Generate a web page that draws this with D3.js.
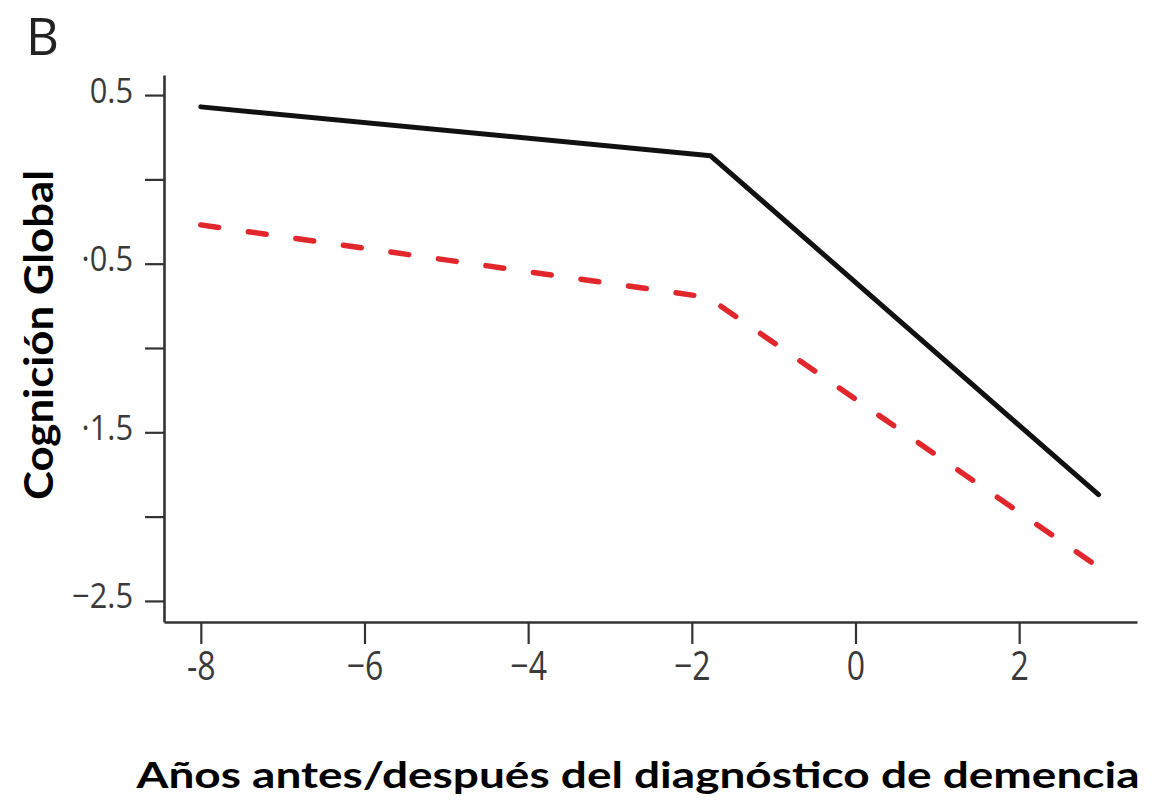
<!DOCTYPE html>
<html>
<head>
<meta charset="utf-8">
<script src="https://cdn.jsdelivr.net/npm/d3@7"></script>
<style>
  html, body { margin: 0; padding: 0; background: #fff; }
  svg { display: block; }
</style>
</head>
<body>
<svg id="chart" width="1152" height="803"></svg>
<script>
// Years relative to dementia diagnosis and global cognition z-scores
const yearsSolid = [-8, -1.77, 2.97];
const cognitionSolid = [0.43, 0.14, -1.87];
const yearsDashed = [-8, -1.8, 2.97];
const cognitionDashed = [-0.27, -0.70, -2.30];

const xTickValues = [-8, -6, -4, -2, 0, 2];
const xTickLabels = ["-8", "−6", "−4", "−2", "0", "2"];
const yTickValues = [0.5, 0, -0.5, -1, -1.5, -2, -2.5];
const yTickLabels = ["0.5", "", "·0.5", "", "·1.5", "", "−2.5"];

const panelLetter = "B";
const yTitle = "Cognición Global";
const xTitle = "Años antes/después del diagnóstico de demencia";

const svg = d3.select("#chart");

const x = d3.scaleLinear().domain([-8.45, 3.44]).range([164, 1137]);
const y = d3.scaleLinear().domain([-2.625, 0.619]).range([622, 75]);

const tickFont = "'Open Sans', 'DejaVu Sans', sans-serif";
const axisColor = "#333";

// x axis
const xAxis = svg.append("g")
  .attr("transform", `translate(0,${y.range()[0]})`)
  .call(d3.axisBottom(x)
    .tickValues(xTickValues)
    .tickFormat((d, i) => xTickLabels[i])
    .tickSize(22)
    .tickSizeOuter(0)
    .tickPadding(8));
xAxis.select(".domain").attr("stroke", axisColor).attr("stroke-width", 2.6);
xAxis.selectAll(".tick line").attr("stroke", axisColor).attr("stroke-width", 2.2);
xAxis.selectAll(".tick text")
  .attr("font-family", tickFont)
  .attr("font-size", 40)
  .attr("fill", "#3a3a3a")
  .attr("transform", "scale(0.8,1)");

// y axis
const yAxis = svg.append("g")
  .attr("transform", `translate(${x.range()[0]},0)`)
  .call(d3.axisLeft(y)
    .tickValues(yTickValues)
    .tickFormat((d, i) => yTickLabels[i])
    .tickSize(19)
    .tickSizeOuter(0)
    .tickPadding(12));
yAxis.select(".domain").attr("stroke", axisColor).attr("stroke-width", 2.6);
yAxis.selectAll(".tick line").attr("stroke", axisColor).attr("stroke-width", 2.2);
yAxis.selectAll(".tick text")
  .attr("font-family", tickFont)
  .attr("font-size", 35)
  .attr("fill", "#3a3a3a")
  .attr("x", -31 / 0.88)
  .attr("dy", "0.2em")
  .attr("transform", "scale(0.88,1)");

// series lines
const line = d3.line().x(d => x(d[0])).y(d => y(d[1]));

svg.append("path")
  .datum(d3.zip(yearsDashed, cognitionDashed))
  .attr("d", line)
  .attr("fill", "none")
  .attr("stroke", "#e1262c")
  .attr("stroke-width", 5.5)
  .attr("stroke-linejoin", "round")
  .attr("stroke-linecap", "round")
  .attr("stroke-dasharray", "18 30");

svg.append("path")
  .datum(d3.zip(yearsSolid, cognitionSolid))
  .attr("d", line)
  .attr("fill", "none")
  .attr("stroke", "#111")
  .attr("stroke-width", 5)
  .attr("stroke-linejoin", "round")
  .attr("stroke-linecap", "round");

// panel letter
svg.append("text")
  .attr("x", 26)
  .attr("y", 55)
  .attr("font-family", "'Open Sans', sans-serif")
  .attr("font-size", 51)
  .attr("fill", "#222")
  .text(panelLetter);

// axis titles
svg.append("text")
  .attr("transform", "translate(53,335) rotate(-90)")
  .attr("text-anchor", "middle")
  .attr("font-family", "Lato, 'Open Sans', sans-serif")
  .attr("font-weight", 700)
  .attr("font-size", 40)
  .attr("textLength", 330)
  .attr("lengthAdjust", "spacingAndGlyphs")
  .attr("fill", "#000")
  .text(yTitle);

svg.append("text")
  .attr("x", 638)
  .attr("y", 788)
  .attr("text-anchor", "middle")
  .attr("font-family", "Lato, 'Open Sans', sans-serif")
  .attr("font-weight", 700)
  .attr("font-size", 36)
  .attr("textLength", 1003)
  .attr("lengthAdjust", "spacingAndGlyphs")
  .attr("fill", "#000")
  .text(xTitle);
</script>
</body>
</html>
